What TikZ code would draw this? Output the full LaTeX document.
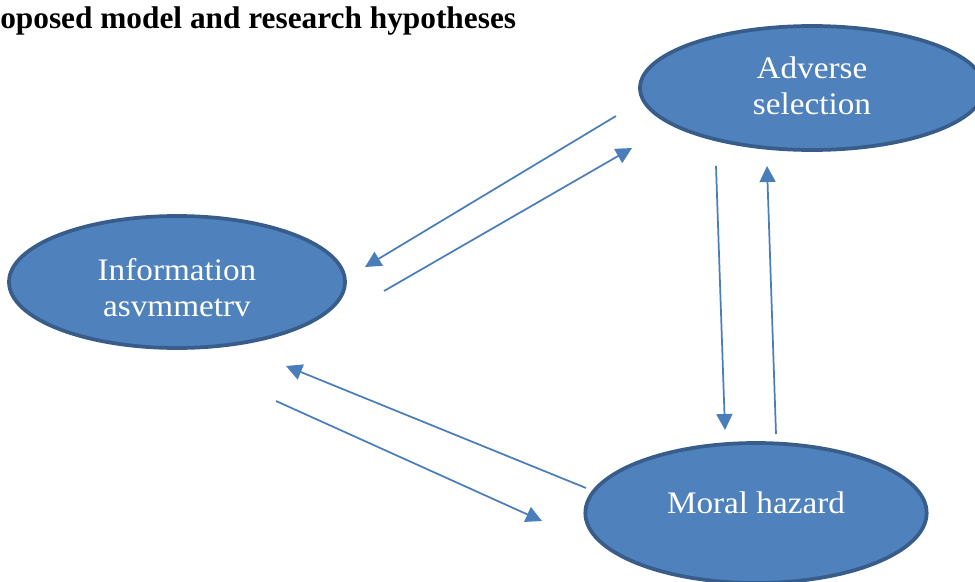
\documentclass[tikz,border=0pt]{standalone}
\usepackage{fontspec}
\setmainfont{Liberation Serif}
\newfontfamily\bubblefont{Liberation Serif}[FakeStretch=1.06]
\usetikzlibrary{shapes.geometric,arrows.meta}
\definecolor{bubblefill}{HTML}{4F81BD}
\definecolor{bubbleedge}{HTML}{385D8A}
\definecolor{arrowblue}{HTML}{4A7EBB}
\tikzset{
  bubble/.style={ellipse,draw=bubbleedge,fill=bubblefill,line width=2.8pt,inner sep=0pt},
  bubbletext/.style={text=white,align=center,font=\bubblefont\fontsize{23.5}{27}\selectfont},
  link/.style={draw=arrowblue,line width=1.3pt,-{Triangle[length=12pt,width=12pt,fill=arrowblue]}}
}
\begin{document}
\begin{tikzpicture}[x=0.75pt,y=-0.75pt]
  \useasboundingbox (0,0) rectangle (975,582);
  \node[anchor=base west,font=\bfseries\fontsize{23.5}{27}\selectfont,inner sep=0pt] (title) at (0,28) {oposed model and research hypotheses};
  % the three constructs
  \node[bubble,minimum width=258pt,minimum height=93pt] (adverse) at (812,88) {};
  \node[bubble,minimum width=252pt,minimum height=99pt] (info) at (177,282) {};
  \node[bubble,minimum width=256pt,minimum height=105pt] (moral) at (756,513) {};
  \node[bubbletext] (adverseT) at ([yshift=2pt]adverse.center) {Adverse\\selection};
  \node[bubbletext] (infoT) at ([yshift=-4pt]info.center) {Information\\asvmmetrv};
  \node[bubbletext] (moralT) at ([yshift=8pt]moral.center) {Moral hazard};
  % arrow ends
  \coordinate (a1) at (616,116);  \coordinate (b1) at (365,267);
  \coordinate (a2) at (384,291);  \coordinate (b2) at (632,148);
  \coordinate (a3) at (716,166);  \coordinate (b3) at (725,430);
  \coordinate (a4) at (776,434);  \coordinate (b4) at (767,166);
  \coordinate (a5) at (586,488);  \coordinate (b5) at (286,366);
  \coordinate (a6) at (276,401);  \coordinate (b6) at (542,521);
  \path
    (a1) edge[link] (b1)
    (a2) edge[link] (b2)
    (a3) edge[link] (b3)
    (a4) edge[link] (b4)
    (a5) edge[link] (b5)
    (a6) edge[link] (b6);
\end{tikzpicture}
\end{document}
